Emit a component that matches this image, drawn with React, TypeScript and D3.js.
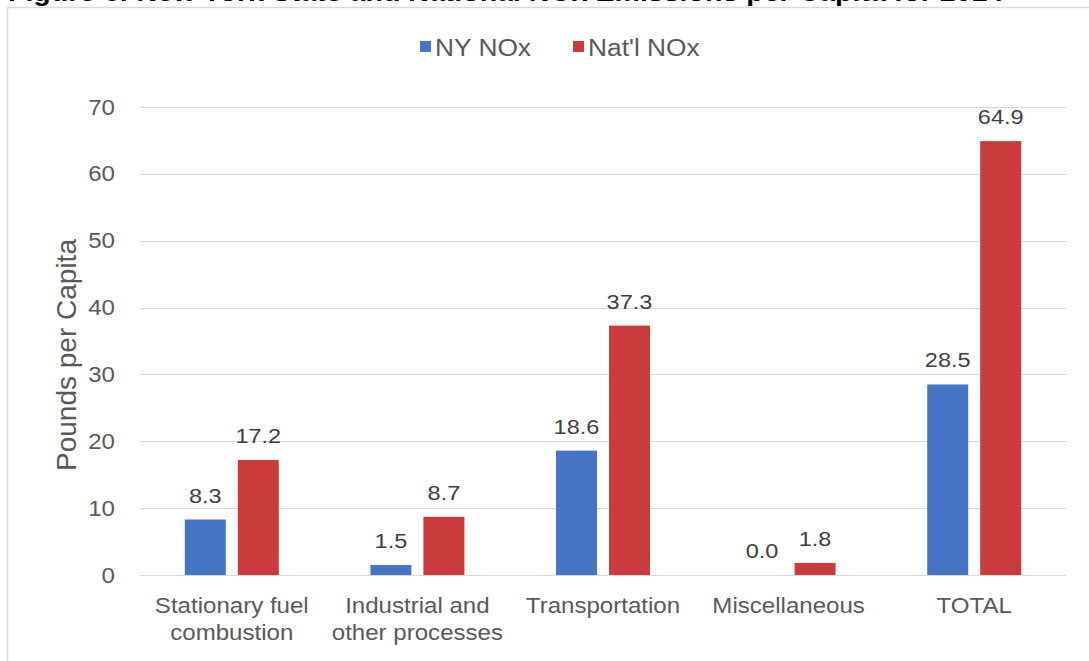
import React from "react";
import * as d3 from "d3";

// Per-capita NOx emissions, New York vs. national average
const categories = [
  ["Stationary fuel", "combustion"],
  ["Industrial and", "other processes"],
  ["Transportation"],
  ["Miscellaneous"],
  ["TOTAL"],
];
const seriesNames = ["NY NOx", "Nat'l NOx"];
const nyValues = [8.3, 1.5, 18.6, 0.0, 28.5];
const natValues = [17.2, 8.7, 37.3, 1.8, 64.9];
const yTicks = [0, 10, 20, 30, 40, 50, 60, 70];

const W = 1089;
const H = 661;
const FONT = "'Liberation Sans', Arial, sans-serif";
const SX = 1.12; // glyphs in this chart are drawn slightly wide
const COLORS = ["#4575c4", "#cb3a3c"];

function WideText({ x, y, anchor = "start", size, fill, weight, children }: any) {
  return (
    <text
      transform={`translate(${x},${y}) scale(${SX},1)`}
      textAnchor={anchor}
      fontSize={size}
      fontFamily={FONT}
      fontWeight={weight}
      fill={fill}
    >
      {children}
    </text>
  );
}

export default function App() {
  const catKeys = categories.map((c) => c.join(" "));
  const x = d3.scaleBand<string>().domain(catKeys).range([139, 1067]).paddingInner(0).paddingOuter(0);
  const step = x.bandwidth();
  const inner = d3
    .scaleBand<string>()
    .domain(seriesNames)
    .range([-47, 47])
    .paddingInner(12 / 53)
    .paddingOuter(0);
  const y = d3.scaleLinear().domain([0, 70]).range([575, 107]);
  const data = [nyValues, natValues];

  return (
    <svg
      width={W}
      height={H}
      style={{ position: "absolute", left: 0, top: 0, background: "#fff" }}
    >
      <rect x={0} y={0} width={W} height={H} fill="#fff" />
      {/* figure caption, running off the top of the page */}
      <WideText x={8} y={0.5} size={25.5} weight="bold" fill="#000">
        Figure 6: New York State and National NOx Emissions per Capita for 2014
      </WideText>

      {/* chart frame */}
      <line x1={7} x2={W} y1={7.5} y2={7.5} stroke="#d9d9d9" strokeWidth={1.5} />
      <line x1={7.5} x2={7.5} y1={7} y2={H} stroke="#d9d9d9" strokeWidth={1.5} />

      {/* legend */}
      {seriesNames.map((s, i) => {
        const lx = i === 0 ? 420 : 573;
        return (
          <g key={s}>
            <rect x={lx} y={41} width={11} height={11} fill={COLORS[i]} />
            <WideText x={lx + 15} y={56} size={23.5} fill="#595959">
              {s}
            </WideText>
          </g>
        );
      })}

      {/* gridlines */}
      {yTicks.map((t) => (
        <line
          key={t}
          x1={140}
          x2={1066}
          y1={Math.round(y(t)) + 0.5}
          y2={Math.round(y(t)) + 0.5}
          stroke="#d9d9d9"
          strokeWidth={1}
        />
      ))}

      {/* y tick labels */}
      {yTicks.map((t) => (
        <WideText key={t} x={115} y={y(t) + 7.5} anchor="end" size={21.5} fill="#595959">
          {t}
        </WideText>
      ))}

      {/* y axis title */}
      <text
        transform={`translate(76,${(107 + 575) / 2 + 14}) rotate(-90)`}
        textAnchor="middle"
        fontSize={28}
        fontFamily={FONT}
        fill="#595959"
      >
        Pounds per Capita
      </text>

      {/* bars and value labels */}
      {catKeys.map((k, ci) => {
        const cx = (x(k) as number) + step / 2;
        return (
          <g key={k}>
            {seriesNames.map((s, si) => {
              const v = data[si][ci];
              const bx = cx + (inner(s) as number);
              const bw = inner.bandwidth();
              return (
                <g key={s}>
                  <rect
                    x={bx}
                    y={y(v)}
                    width={bw}
                    height={y(0) - y(v)}
                    fill={COLORS[si]}
                  />
                  <WideText x={bx + bw / 2} y={y(v) - 17} anchor="middle" size={21} fill="#404040">
                    {v.toFixed(1)}
                  </WideText>
                </g>
              );
            })}
            {categories[ci].map((line, li) => (
              <WideText
                key={li}
                x={cx}
                y={613 + li * 27}
                anchor="middle"
                size={21.5}
                fill="#595959"
              >
                {line}
              </WideText>
            ))}
          </g>
        );
      })}
    </svg>
  );
}
